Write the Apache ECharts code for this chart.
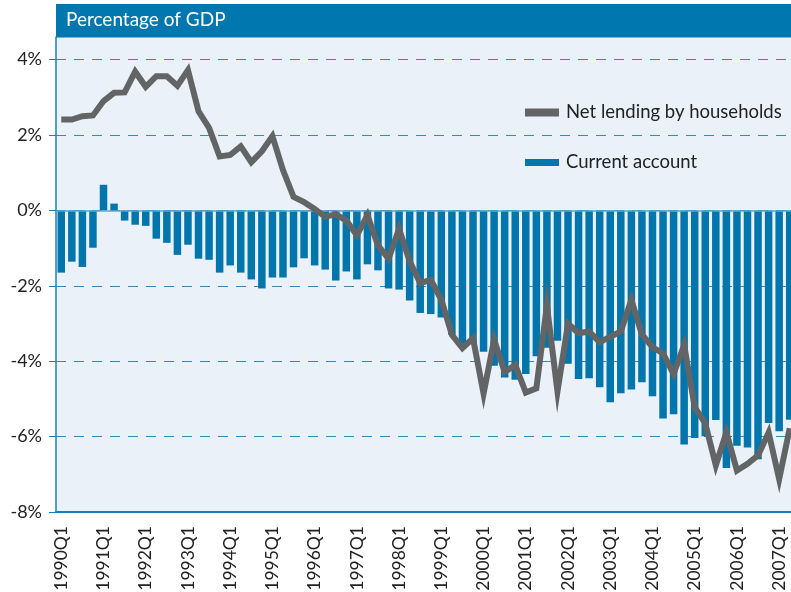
<!DOCTYPE html>
<html>
<head>
<meta charset="utf-8">
<script src="https://cdn.jsdelivr.net/npm/echarts@6/dist/echarts.min.js"></script>
<style>
  html, body { margin: 0; padding: 0; background: #fff; }
  #chart { width: 791px; height: 592px; }
</style>
</head>
<body>
<div id="chart"></div>
<script>
var years = [1990, 1991, 1992, 1993, 1994, 1995, 1996, 1997, 1998,
             1999, 2000, 2001, 2002, 2003, 2004, 2005, 2006, 2007];
var quarters = ['Q1', 'Q2', 'Q3', 'Q4'];
var yTicks = [-8, -6, -4, -2, 0, 2, 4];

// current account, % of GDP (1990Q1 .. 2007Q2)
var currentAccount = [
  -1.65, -1.36, -1.50, -0.99, 0.68, 0.18, -0.27, -0.38, -0.41, -0.75,
  -0.86, -1.18, -0.91, -1.28, -1.31, -1.65, -1.46, -1.65, -1.83, -2.07,
  -1.78, -1.78, -1.51, -1.27, -1.46, -1.57, -1.86, -1.62, -1.83, -1.43,
  -1.59, -2.07, -2.10, -2.39, -2.72, -2.75, -2.84, -3.30, -3.60, -3.50,
  -3.75, -4.12, -4.43, -4.49, -4.34, -3.87, -3.64, -3.46, -4.07, -4.47,
  -4.45, -4.69, -5.09, -4.85, -4.75, -4.56, -4.93, -5.52, -5.41, -6.21,
  -6.04, -5.99, -5.56, -6.83, -6.24, -6.29, -6.60, -5.64, -5.86, -5.55
];

// net lending by households, % of GDP
var netLending = [
  2.41, 2.41, 2.50, 2.52, 2.90, 3.12, 3.13, 3.68, 3.28, 3.56,
  3.56, 3.31, 3.72, 2.63, 2.19, 1.43, 1.47, 1.70, 1.28, 1.57,
  1.97, 1.07, 0.36, 0.22, 0.04, -0.17, -0.10, -0.27, -0.66, -0.13,
  -0.93, -1.28, -0.49, -1.35, -1.93, -1.84, -2.37, -3.30, -3.65, -3.39,
  -4.86, -3.43, -4.29, -4.10, -4.83, -4.72, -2.52, -4.80, -3.00, -3.26,
  -3.21, -3.50, -3.35, -3.21, -2.37, -3.29, -3.63, -3.79, -4.34, -3.57,
  -5.22, -5.65, -6.76, -5.89, -6.90, -6.72, -6.50, -5.89, -7.13, -5.78
];

var categories = [];
years.forEach(function (y) {
  quarters.forEach(function (q) { categories.push(y + q); });
});
categories = categories.slice(0, currentAccount.length);

var blue = '#0076ad';
var axisBlue = '#1a7fbf';
var font = 'Lato, "Noto Sans", sans-serif';

var chart = echarts.init(document.getElementById('chart'));

var option = {
  animation: false,
  grid: {
    left: 56, top: 37, bottom: 80, width: 739,
    show: true, backgroundColor: '#eaf1f8', borderWidth: 0,
    outerBoundsMode: 'none'
  },
  graphic: [
    {
      type: 'rect', z: 100,
      shape: { x: 56, y: 4, width: 735, height: 33.5 },
      style: { fill: '#0077ae' }
    },
    {
      type: 'text', z: 101, left: 66, top: 10,
      style: { text: 'Percentage of GDP', fill: '#fff', font: '19px ' + font }
    }
  ],
  legend: [
    {
      data: [{ name: 'Net lending by households', icon: 'rect' }],
      left: 520, top: 98, itemWidth: 34, itemHeight: 8,
      textStyle: { fontFamily: font, fontSize: 18.5, color: '#222', padding: [0, 0, 0, 2] }
    },
    {
      data: [{ name: 'Current account', icon: 'rect' }],
      left: 520, top: 148, itemWidth: 34, itemHeight: 7,
      textStyle: { fontFamily: font, fontSize: 18.5, color: '#222', padding: [0, 0, 0, 2] }
    }
  ],
  xAxis: {
    type: 'category',
    data: categories,
    boundaryGap: true,
    z: 10,
    axisLine: { onZero: false, lineStyle: { color: axisBlue, width: 2 } },
    axisTick: { interval: 0, length: 6, lineStyle: { color: axisBlue } },
    axisLabel: {
      interval: 3, rotate: 90, margin: 14,
      fontFamily: font, fontSize: 17.5, color: '#222'
    },
    splitLine: { show: false }
  },
  yAxis: {
    type: 'value',
    min: -8, max: 4.6, interval: 2,
    axisLine: { show: true, lineStyle: { color: axisBlue, width: 1.5 } },
    axisTick: { show: true, length: 7, customValues: yTicks, lineStyle: { color: axisBlue } },
    axisLabel: {
      customValues: yTicks,
      margin: 14, fontFamily: font, fontSize: 18, color: '#222',
      formatter: function (v) {
        return Math.abs(v % 2) < 1e-6 ? v + '%' : '';
      }
    },
    splitLine: {
      lineStyle: { color: '#2f8ac2', type: [10, 8], width: 1 }
    }
  },
  series: [
    {
      name: 'Current account',
      type: 'bar',
      data: currentAccount,
      barCategoryGap: '29%',
      itemStyle: { color: blue },
      markLine: {
        silent: true, symbol: 'none', label: { show: false },
        lineStyle: { type: 'solid', color: '#5fa6d3', width: 1.5 },
        data: [{ yAxis: 0 }]
      }
    },
    {
      name: 'Net lending by households',
      type: 'line',
      data: netLending,
      symbol: 'none',
      z: 5,
      itemStyle: { color: '#636466' },
      lineStyle: { color: '#636466', width: 6, join: 'miter', miterLimit: 10 }
    }
  ]
};

chart.setOption(option);
</script>
</body>
</html>
